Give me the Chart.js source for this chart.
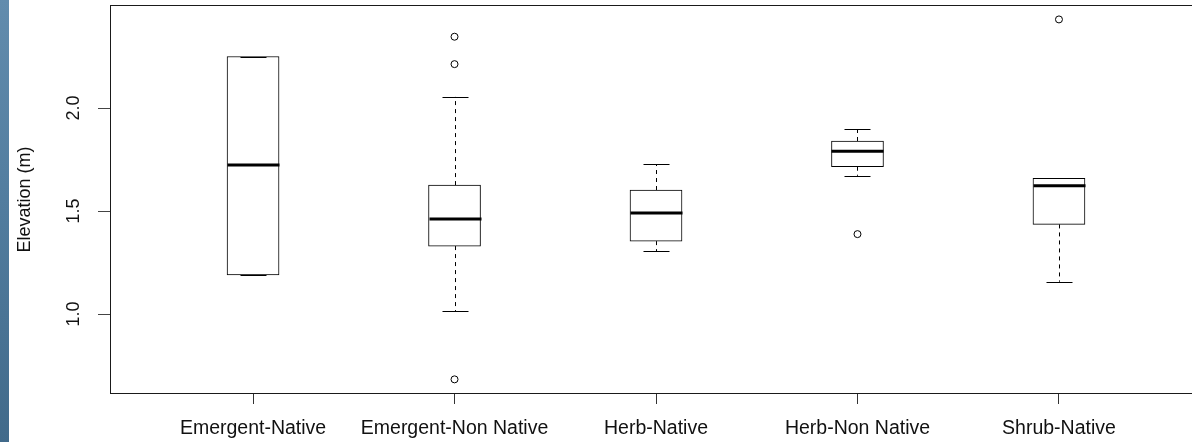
<!DOCTYPE html>
<html><head><meta charset="utf-8">
<script src="https://cdn.jsdelivr.net/npm/chart.js@4.4.1/dist/chart.umd.min.js"></script>
<style>
html,body{margin:0;padding:0;background:#fff;overflow:hidden;width:1192px;height:442px;}
#strip{position:absolute;left:0;top:0;width:9px;height:442px;background:linear-gradient(180deg,#628cad 0%,#527d9f 45%,#416a8a 100%);}
#wrap{position:absolute;left:0;top:0;width:1205px;height:442px;}
</style></head><body>
<div id="strip"></div>
<div id="wrap"><canvas id="c" width="1205" height="442"></canvas></div>
<script>
// ---- data ----
const categories  = ['Emergent-Native', 'Emergent-Non Native', 'Herb-Native', 'Herb-Non Native', 'Shrub-Native'];
const whiskerLow  = [1.190, 1.015, 1.306, 1.671, 1.157];
const q1          = [1.190, 1.330, 1.354, 1.715, 1.435];
const median      = [1.723, 1.461, 1.490, 1.790, 1.623];
const q3          = [2.250, 1.626, 1.602, 1.840, 1.659];
const whiskerHigh = [2.250, 2.054, 1.728, 1.898, 1.659];
const outliers    = [[], [2.346, 2.213, 0.683], [], [1.388], [2.430]];
const yTicks      = [1.0, 1.5, 2.0];
const yTitle      = 'Elevation (m)';

const boxData = categories.map((c, i) => ({x: i + 1, y: [q1[i], q3[i]]}));
const outlierData = [];
outliers.forEach((arr, i) => arr.forEach(v => outlierData.push({x: i + 1, y: v})));

const BOX_W = 52;

const boxParts = {
  id: 'boxParts',
  afterDatasetsDraw(chart) {
    const {ctx, chartArea: a} = chart;
    const x = chart.scales.x, y = chart.scales.y;
    ctx.save();
    ctx.beginPath();
    ctx.rect(a.left, a.top, a.right - a.left, a.bottom - a.top);
    ctx.clip();
    ctx.strokeStyle = '#000';
    categories.forEach((c, i) => {
      const cx = Math.round(x.getPixelForValue(i + 1)) + 0.5;
      const yLo = y.getPixelForValue(whiskerLow[i]);
      const yQ1 = y.getPixelForValue(q1[i]);
      const yQ3 = y.getPixelForValue(q3[i]);
      const yHi = y.getPixelForValue(whiskerHigh[i]);
      const yMed = y.getPixelForValue(median[i]);
      ctx.lineWidth = 1;
      ctx.setLineDash([4, 4]);
      ctx.beginPath();
      if (yHi < yQ3) { ctx.moveTo(cx, yQ3); ctx.lineTo(cx, yHi); }
      if (yLo > yQ1) { ctx.moveTo(cx, yQ1); ctx.lineTo(cx, yLo); }
      ctx.stroke();
      ctx.setLineDash([]);
      ctx.beginPath();
      const hc = BOX_W / 4;
      ctx.moveTo(cx - hc, Math.round(yHi) + 0.5); ctx.lineTo(cx + hc, Math.round(yHi) + 0.5);
      ctx.moveTo(cx - hc, Math.round(yLo) + 0.5); ctx.lineTo(cx + hc, Math.round(yLo) + 0.5);
      ctx.stroke();
      ctx.lineWidth = 3;
      ctx.beginPath();
      ctx.moveTo(cx - BOX_W / 2, yMed); ctx.lineTo(cx + BOX_W / 2, yMed);
      ctx.stroke();
    });
    ctx.restore();
  },
  afterDraw(chart) {
    const {ctx, chartArea: a} = chart;
    ctx.save();
    ctx.strokeStyle = '#1a1a1a';
    ctx.lineWidth = 1;
    ctx.strokeRect(Math.round(a.left) + 0.5, Math.round(a.top) + 0.5,
                   Math.round(a.right - a.left), Math.round(a.bottom - a.top) - 1);
    ctx.restore();
  }
};

new Chart(document.getElementById('c'), {
  type: 'bar',
  data: {
    datasets: [
      {
        type: 'bar',
        data: boxData,
        backgroundColor: '#fff',
        borderColor: '#000',
        borderWidth: 1,
        borderSkipped: false,
        barThickness: BOX_W,
        order: 2
      },
      {
        type: 'scatter',
        data: outlierData,
        pointRadius: 3.5,
        pointBorderWidth: 1,
        pointBorderColor: '#000',
        pointBackgroundColor: 'rgba(255,255,255,0)',
        showLine: false,
        order: 1
      }
    ]
  },
  options: {
    responsive: false,
    animation: false,
    events: [],
    layout: {padding: {top: 5, left: 0, right: 0, bottom: 0}},
    plugins: {legend: {display: false}, tooltip: {enabled: false}},
    scales: {
      x: {
        type: 'linear',
        min: 0.29,
        max: 5.7,
        offset: false,
        afterBuildTicks: s => { s.ticks = categories.map((c, i) => ({value: i + 1})); },
        afterFit: s => { s.height = 48; s.paddingLeft = 0; s.paddingRight = 0; },
        grid: {offset: false, drawOnChartArea: false, tickLength: 10, color: '#333', tickWidth: 1},
        border: {display: false},
        ticks: {
          autoSkip: false, maxRotation: 0, minRotation: 0, padding: 13,
          color: '#111', font: {family: 'Liberation Sans, Arial, sans-serif', size: 19.5},
          callback: v => categories[Math.round(v) - 1] || ''
        }
      },
      y: {
        type: 'linear',
        min: 0.612,
        max: 2.5,
        afterBuildTicks: s => { s.ticks = yTicks.map(v => ({value: v})); },
        afterFit: s => { s.width = 110; s.paddingTop = 0; s.paddingBottom = 0; },
        grid: {drawOnChartArea: false, tickLength: 12, color: '#444', tickWidth: 1},
        border: {display: false},
        title: {
          display: true, text: yTitle, color: '#111',
          font: {family: 'Liberation Sans, Arial, sans-serif', size: 18},
          padding: {top: 14, bottom: 0}
        },
        ticks: {
          minRotation: 90, maxRotation: 90, crossAlign: 'center', padding: 11,
          color: '#111', font: {family: 'Liberation Sans, Arial, sans-serif', size: 18},
          callback: v => Number(v).toFixed(1)
        }
      }
    }
  },
  plugins: [boxParts]
});
</script>
</body></html>
